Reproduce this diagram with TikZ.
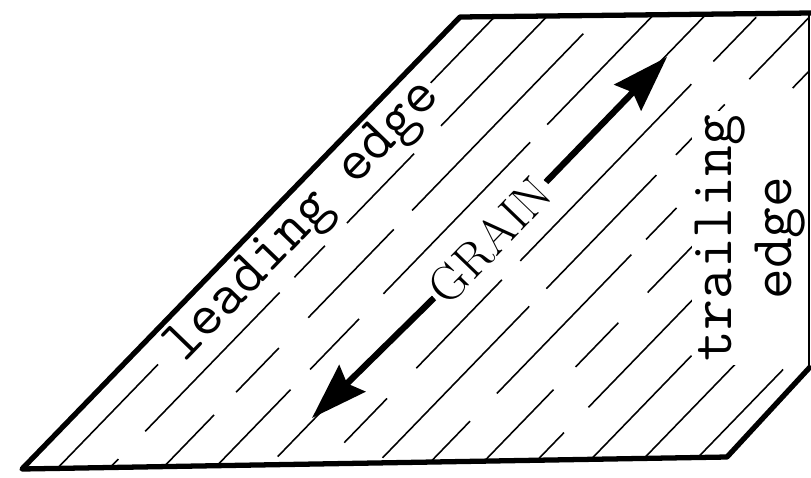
\documentclass[tikz,border=0pt]{standalone}
\usepackage{tikz}
\usetikzlibrary{arrows.meta}

\begin{document}
\begin{tikzpicture}[
    x=0.02cm, y=-0.02cm,
    >={Stealth[length=32pt, width=21pt, inset=4pt]},
    outline/.style={draw=black, line width=3pt, line join=round},
    thinedge/.style={draw=black, line width=0.9pt},
    grainline/.style={draw=black, line width=0.9pt},
    grainA/.style={grainline, dash pattern=on 90pt off 16pt on 40pt off 20pt on 120pt off 14pt},
    grainB/.style={grainline, dash pattern=on 55pt off 22pt on 110pt off 12pt on 25pt off 18pt},
    grainC/.style={grainline, dash pattern=on 140pt off 18pt on 35pt off 24pt on 70pt off 15pt},
    edgelbl/.style={font=\fontsize{34}{34}\selectfont\ttfamily, fill=white, inner sep=2pt, align=center},
    grainlbl/.style={font=\fontsize{28}{30}\selectfont\rmfamily, fill=white, inner sep=2pt},
    grainarrow/.style={draw=black, line width=3.6pt, ->}
]
    \useasboundingbox (0,0) rectangle (811,477);

    % Corners of the board
    \coordinate (blc) at (22,469);
    \coordinate (tlc) at (460,17);
    \coordinate (trc) at (811,13);
    \coordinate (rtc) at (809,13);
    \coordinate (rbc) at (809,368);
    \coordinate (rmc) at (811,366);
    \coordinate (brc) at (727,457);

    % Grain lines
    \begin{scope}
        \clip (blc) -- (tlc) -- (rtc) -- (rbc) -- (brc) -- cycle;
        \foreach \x/\ph/\s in {58/0/grainA, 110/40/grainB, 163/90/grainC, 215/20/grainA, 267/60/grainB, 320/130/grainC, 373/150/grainA, 425/10/grainB, 478/70/grainC, 530/110/grainA, 583/90/grainB, 635/30/grainC, 688/200/grainA}
            \draw[\s, dash phase=\ph pt] (\x-10,478) -- ++(460,-475);
    \end{scope}

    % Labels
    \node[edgelbl, rotate=46, anchor=mid] (leading) at (310,228) {leading edge};
    \node[grainlbl, rotate=46] (grain) at (490,240) {GRAIN};
    \node[edgelbl, rotate=90] (trailing) at (750,238) {trailing\\edge};

    % Grain direction
    \coordinate (uptip) at (667,57);
    \coordinate (lowtip) at (312,418);
    \draw[grainarrow] (grain.east) -- (uptip);
    \draw[grainarrow] (grain.west) -- (lowtip);

    % Edges
    \draw[outline] (rmc) -- (brc) -- (blc) -- (tlc) -- (trc);
    \draw[thinedge] (rtc) -- (rbc);

\end{tikzpicture}
\end{document}
